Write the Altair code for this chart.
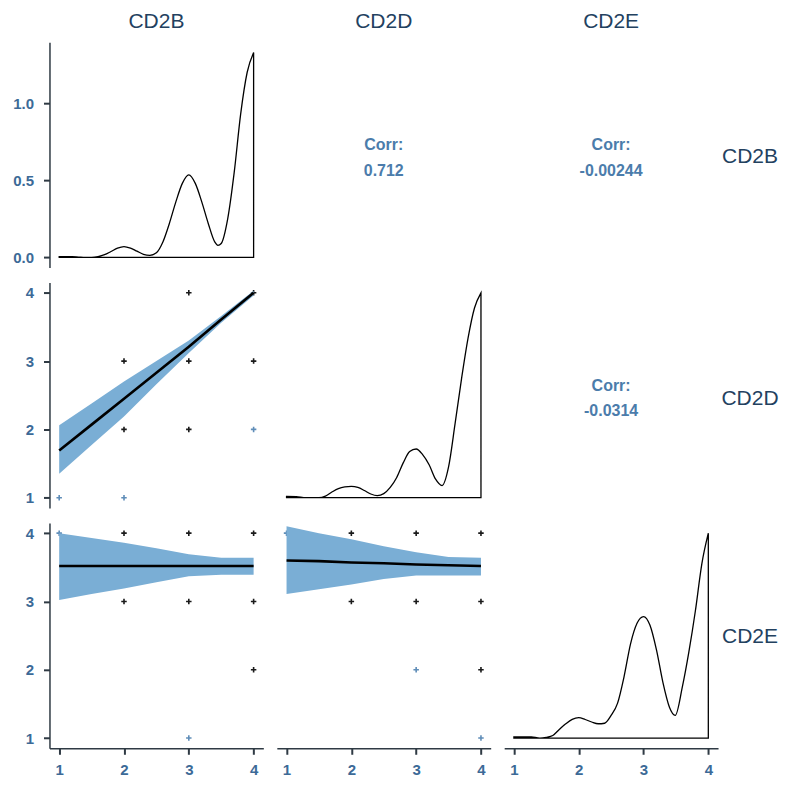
import altair as alt
import pandas as pd

VARS = ["CD2B", "CD2D", "CD2E"]
CORR_LABELS = ["0.712", "-0.00244", "-0.0314"]

# ---- diagonal densities ----
dens_x_B = [1.0, 1.2, 1.3, 1.4, 1.5, 1.6, 1.7, 1.8, 1.9, 2.0, 2.1, 2.2, 2.3, 2.4, 2.5, 2.6,
            2.7, 2.8, 2.9, 3.0, 3.1, 3.2, 3.3, 3.4, 3.45, 3.5, 3.6, 3.7, 3.8, 3.9, 4.0]
dens_B = [0.005, 0.004, 0.002, 0.0, 0.0, 0.005, 0.017, 0.038, 0.06, 0.07, 0.06, 0.04, 0.02,
          0.013, 0.03, 0.10, 0.22, 0.36, 0.48, 0.535, 0.48, 0.36, 0.22, 0.10, 0.078, 0.09,
          0.25, 0.55, 0.93, 1.20, 1.33]

dens_x_D = [1.0, 1.15, 1.3, 1.5, 1.6, 1.7, 1.8, 1.9, 2.0, 2.1, 2.2, 2.3, 2.4, 2.5, 2.6, 2.7,
            2.8, 2.9, 3.0, 3.1, 3.2, 3.3, 3.4, 3.5, 3.6, 3.7, 3.8, 3.9, 4.0]
dens_D = [0.010, 0.008, 0.0, 0.0, 0.013, 0.045, 0.072, 0.085, 0.089, 0.081, 0.057, 0.029,
          0.016, 0.032, 0.081, 0.16, 0.275, 0.365, 0.385, 0.34, 0.26, 0.146, 0.096, 0.243,
          0.583, 0.94, 1.26, 1.5, 1.62]

dens_x_E = [1.0, 1.15, 1.27, 1.4, 1.5, 1.6, 1.7, 1.8, 1.9, 2.0, 2.1, 2.2, 2.3, 2.4, 2.5, 2.6,
            2.7, 2.8, 2.9, 3.0, 3.1, 3.2, 3.3, 3.4, 3.49, 3.6, 3.7, 3.8, 3.9, 4.0]
dens_E = [0.007, 0.007, 0.006, 0.0, 0.004, 0.014, 0.048, 0.08, 0.105, 0.114, 0.104, 0.09,
          0.08, 0.083, 0.127, 0.196, 0.345, 0.529, 0.644, 0.682, 0.633, 0.495, 0.311, 0.173,
          0.127, 0.288, 0.483, 0.713, 0.978, 1.15]

# ---- lower panels: points ----
pts_DB_x = [3, 2, 3, 4, 2, 3, 4, 1, 2, 4]
pts_DB_y = [4, 3, 3, 3, 2, 2, 2, 1, 1, 4]
pts_DB_tone = ["dark", "dark", "dark", "dark", "dark", "dark", "light", "light", "light", "dark"]

pts_EB_x = [1, 2, 3, 4, 2, 3, 4, 4, 3]
pts_EB_y = [4, 4, 4, 4, 3, 3, 3, 2, 1]
pts_EB_tone = ["light", "dark", "dark", "dark", "dark", "dark", "dark", "dark", "light"]

pts_ED_x = [1, 2, 3, 4, 2, 3, 4, 3, 4, 4]
pts_ED_y = [4, 4, 4, 4, 3, 3, 3, 2, 2, 1]
pts_ED_tone = ["light", "dark", "dark", "dark", "dark", "dark", "dark", "light", "dark", "light"]

# ---- lower panels: smooth fits ----
fit_x = [1.0, 1.5, 2.0, 2.5, 3.0, 3.5, 4.0]
fit_DB = [1.69, 2.07, 2.45, 2.83, 3.21, 3.61, 4.0]
lo_DB = [1.35, 1.77, 2.19, 2.66, 3.12, 3.56, 3.96]
hi_DB = [2.06, 2.38, 2.70, 3.00, 3.30, 3.66, 4.03]

fit_EB = [3.52, 3.52, 3.52, 3.52, 3.52, 3.52, 3.52]
lo_EB = [3.02, 3.11, 3.19, 3.28, 3.37, 3.39, 3.39]
hi_EB = [4.00, 3.93, 3.86, 3.78, 3.69, 3.64, 3.64]

fit_ED = [3.60, 3.59, 3.57, 3.56, 3.54, 3.53, 3.52]
lo_ED = [3.11, 3.18, 3.25, 3.33, 3.38, 3.38, 3.38]
hi_ED = [4.10, 4.00, 3.91, 3.81, 3.72, 3.65, 3.64]

W, H = 214, 225.5
FONT = "Liberation Sans"
STRIP_COLOR = "#23415f"
CORR_COLOR = "#4b7cab"
RIBBON = "#7aaed5"

xscale = alt.Scale(domain=[0.85, 4.15], nice=False, zero=False)
yscale = alt.Scale(domain=[0.85, 4.15], nice=False, zero=False)
xaxis = alt.Axis(values=[1, 2, 3, 4], format="d", title=None, labelPadding=8)
yaxis = alt.Axis(values=[1, 2, 3, 4], format="d", title=None)


def label_layer(text, x, y):
    return alt.Chart(pd.DataFrame({"t": [text]})).mark_text(
        font=FONT, fontSize=21, color=STRIP_COLOR, align="center", baseline="middle"
    ).encode(text="t:N", x=alt.value(x), y=alt.value(y))


def density_panel(xs, ds, dom, show_x, show_y, extra):
    df = pd.DataFrame({"x": xs, "d": ds})
    area = alt.Chart(df).mark_area(
        fillOpacity=0, stroke="black", strokeWidth=1.3, interpolate="monotone"
    ).encode(
        x=alt.X("x:Q", scale=xscale, axis=xaxis if show_x else None),
        y=alt.Y("d:Q", scale=alt.Scale(domain=dom, nice=False, zero=False),
                axis=alt.Axis(values=[0.0, 0.5, 1.0], format=".1f", title=None) if show_y else None),
    )
    return alt.layer(area, *extra).properties(width=W, height=H)


def scatter_panel(px, py, tone, fy, lo, hi, show_x, show_y):
    pdf = pd.DataFrame({"x": px, "y": py, "tone": tone})
    fdf = pd.DataFrame({"x": fit_x, "fit": fy, "lo": lo, "hi": hi})
    X = alt.X("x:Q", scale=xscale, axis=xaxis if show_x else None)
    pts = alt.Chart(pdf).mark_point(
        shape="M-1,0L1,0M0,-1L0,1", filled=False, strokeWidth=1.6, size=30, opacity=1
    ).encode(
        x=X,
        y=alt.Y("y:Q", scale=yscale, axis=yaxis if show_y else None),
        color=alt.Color("tone:N", scale=alt.Scale(domain=["dark", "light"],
                                                   range=["#1a1a1a", "#5f8db8"]), legend=None),
    )
    band = alt.Chart(fdf).mark_area(color=RIBBON, opacity=1).encode(
        x=X, y=alt.Y("lo:Q", scale=yscale), y2="hi:Q"
    )
    line = alt.Chart(fdf).mark_line(color="black", strokeWidth=2.6).encode(
        x=X, y=alt.Y("fit:Q", scale=yscale)
    )
    return alt.layer(pts, band, line).properties(width=W, height=H)


def corr_panel(value, extra):
    df = pd.DataFrame({"a": ["Corr:"], "b": [value]})
    base = alt.Chart(df)
    t1 = base.mark_text(font=FONT, fontSize=16, fontWeight="bold", color=CORR_COLOR,
                        align="center", baseline="middle").encode(
        text="a:N", x=alt.value(W / 2), y=alt.value(103))
    t2 = base.mark_text(font=FONT, fontSize=16, fontWeight="bold", color=CORR_COLOR,
                        align="center", baseline="middle").encode(
        text="b:N", x=alt.value(W / 2), y=alt.value(129))
    return alt.layer(t1, t2, *extra).properties(width=W, height=H)


TITLE_Y = -20
ROW_X = 246

p11 = density_panel(dens_x_B, dens_B, [-0.0665, 1.3965], False, True,
                    [label_layer(VARS[0], W / 2, TITLE_Y)])
p12 = corr_panel(CORR_LABELS[0], [label_layer(VARS[1], W / 2, TITLE_Y)])
p13 = corr_panel(CORR_LABELS[1], [label_layer(VARS[2], W / 2, TITLE_Y),
                                  label_layer(VARS[0], ROW_X, 115)])

p21 = scatter_panel(pts_DB_x, pts_DB_y, pts_DB_tone, fit_DB, lo_DB, hi_DB, False, True)
p22 = density_panel(dens_x_D, dens_D, [-0.081, 1.701], False, False, [])
p23 = corr_panel(CORR_LABELS[2], [label_layer(VARS[1], ROW_X, 117)])

p31 = scatter_panel(pts_EB_x, pts_EB_y, pts_EB_tone, fit_EB, lo_EB, hi_EB, True, True)
p32 = scatter_panel(pts_ED_x, pts_ED_y, pts_ED_tone, fit_ED, lo_ED, hi_ED, True, False)
p33 = density_panel(dens_x_E, dens_E, [-0.0575, 1.2075], True, False,
                    [label_layer(VARS[2], ROW_X, 114)])

chart = alt.concat(
    p11, p12, p13, p21, p22, p23, p31, p32, p33,
    columns=3, spacing={"row": 14.5, "column": 13.5}, bounds="flush"
).resolve_scale(
    x="independent", y="independent"
).properties(
    padding={"top": 3, "left": 4.5, "right": 0, "bottom": 0}
).configure_view(
    stroke=None
).configure_axis(
    grid=False,
    domainColor="#2f3a44",
    domainWidth=1.5,
    tickColor="#2f3a44",
    tickWidth=2,
    tickSize=6,
    labelColor="#3c6a97",
    labelFont=FONT,
    labelFontSize=15,
    labelFontWeight="bold",
    labelPadding=10,
)

chart.save("out.html", embed_options={"renderer": "svg", "actions": False})
